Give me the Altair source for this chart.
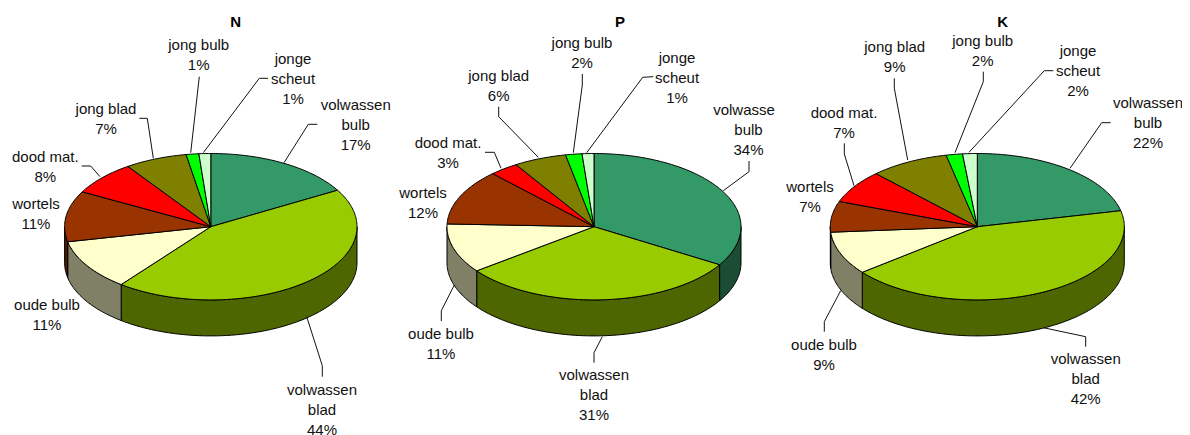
import math
import altair as alt
import pandas as pd

# ---- values (percent shares) ----
CATEGORIES = ["volwassen bulb", "volwassen blad", "oude bulb", "wortels",
              "dood mat.", "jong blad", "jong bulb", "jonge scheut"]
N_VALUES = [16.7, 43.8, 11.2, 11.2, 7.5, 6.9, 1.4, 1.3]
P_VALUES = [33.7, 31.0, 10.9, 12.3, 3.2, 5.8, 1.8, 1.3]
K_VALUES = [21.5, 42.8, 9.5, 6.8, 7.3, 8.7, 1.8, 1.6]
N_LABELS = ["17%", "44%", "11%", "11%", "8%", "7%", "1%", "1%"]
P_LABELS = ["34%", "31%", "11%", "12%", "3%", "6%", "2%", "1%"]
K_LABELS = ["22%", "42%", "9%", "7%", "7%", "9%", "2%", "2%"]
PANELS = ["N", "P", "K"]

# ---- styles ----
TOP_COLORS = ["#339966", "#99CC00", "#FFFFCC", "#993300", "#FF0000", "#808000", "#00FF00", "#CCFFCC"]
SIDE_COLORS = ["#1A4D33", "#4D6600", "#808066", "#4D1A00", "#800000", "#404000", "#008000", "#668066"]

# ---- layout ----
CENTERS = {"N": (210.8, 226.7, 146.2), "P": (594.0, 226.7, 147.0), "K": (977.3, 226.7, 147.0)}
RY, DEPTH = 73.2, 36.0
TITLE_POS = {"N": (235.7, 21.5), "P": (620.0, 21.5), "K": (1002.7, 21.5)}
LINE_SHIFT = {"volwasse": -4.5}
# label lines: text lines, centre x, first line y
LABEL_POS = {
    "N": [(["volwassen", "bulb"], 355.7, 105), (["volwassen", "blad"], 322, 390), (["oude bulb"], 47, 305),
          (["wortels"], 36, 204), (["dood mat."], 45.3, 157), (["jong blad"], 106, 109),
          (["jong bulb"], 198.7, 45), (["jonge", "scheut"], 293, 59)],
    "P": [(["volwasse", "bulb"], 748.5, 110), (["volwassen", "blad"], 594, 375), (["oude bulb"], 441, 334),
          (["wortels"], 423, 193), (["dood mat."], 448, 143), (["jong blad"], 498.7, 76),
          (["jong bulb"], 582, 43), (["jonge", "scheut"], 677, 58)],
    "K": [(["volwassen", "bulb"], 1148, 103), (["volwassen", "blad"], 1085.7, 359), (["oude bulb"], 824, 345),
          (["wortels"], 810, 187), (["dood mat."], 844, 113), (["jong blad"], 894.7, 47),
          (["jong bulb"], 982.7, 41), (["jonge", "scheut"], 1078, 51)],
}
LEADERS = {
    "N": [[(268, 78.3), (259.3, 78.3), (203.3, 152.7)], [(199.3, 76.7), (190.7, 152.7)],
          [(317.3, 124.3), (308.3, 124.3), (284, 162.7)], [(139.3, 118.3), (147.3, 118.3), (153.3, 158.3)],
          [(81.7, 166), (90.7, 166), (100, 176.7)], [(322.3, 376.7), (322.3, 365.7), (306.7, 316.7)]],
    "P": [[(653.3, 76.7), (642.7, 77.3), (586.7, 152.7)], [(582.3, 74), (582.3, 85), (573.3, 152.7)],
          [(749, 161), (749, 171.7), (723.3, 190.7)], [(498.7, 106.7), (498.7, 116.7), (538.3, 157.3)],
          [(485, 152.3), (494.3, 152.3), (501, 168.3)], [(441.3, 321), (441.3, 310.7), (454.3, 285)],
          [(594, 362.7), (594, 352.7), (602.3, 336.7)]],
    "K": [[(1053.3, 70.7), (1044.3, 70.7), (969, 152.3)], [(983.3, 71.7), (983.3, 81.7), (955, 152.7)],
          [(1110.7, 122.7), (1101.7, 122.7), (1070, 168.3)], [(894.3, 78.3), (894.3, 88.3), (907.7, 160)],
          [(844.3, 143.3), (844.3, 154), (854, 185.7)], [(824.3, 331.7), (824.3, 321.7), (840.7, 290.7)],
          [(1085.7, 346.7), (1085.7, 336.7), (1043.3, 327.7)]],
}

VALUES = {"N": N_VALUES, "P": P_VALUES, "K": K_VALUES}
LABELS = {"N": N_LABELS, "P": P_LABELS, "K": K_LABELS}


def pt(panel, deg, drop=0.0):
    cx, cy, rx = CENTERS[panel]
    t = math.radians(deg)
    return cx + rx * math.sin(t), cy - RY * math.cos(t) + drop


def arc(a, b):
    n = max(2, int(abs(b - a)) + 2)
    return [a + (b - a) * i / (n - 1) for i in range(n)]


tops, sides = [], []
for panel in PANELS:
    cum = 0.0
    total = sum(VALUES[panel])
    for k, v in enumerate(VALUES[panel]):
        a, b = cum / total * 360, (cum + v) / total * 360
        cum += v
        cx, cy, _ = CENTERS[panel]
        poly = [(cx, cy)] + [pt(panel, d) for d in arc(a, b)] + [(cx, cy)]
        for i, (x, y) in enumerate(poly):
            tops.append(dict(id=f"{panel}{k}", i=i, x=x, y=y, fill=TOP_COLORS[k], cat=CATEGORIES[k]))
        lo, hi = max(a, 90), min(b, 270)
        if hi > lo:
            ds = arc(lo, hi)
            poly = [pt(panel, d) for d in ds] + [pt(panel, d, DEPTH) for d in reversed(ds)]
            poly.append(poly[0])
            for i, (x, y) in enumerate(poly):
                sides.append(dict(id=f"{panel}{k}", i=i, x=x, y=y, fill=SIDE_COLORS[k], cat=CATEGORIES[k]))

texts, titles, leaders = [], [], []
for panel in PANELS:
    x, y = TITLE_POS[panel]
    titles.append(dict(x=x, y=y, t=panel))
    for (lines, x, y), pct in zip(LABEL_POS[panel], LABELS[panel]):
        for j, line in enumerate(lines + [pct]):
            texts.append(dict(x=x + LINE_SHIFT.get(line, 0), y=y + 20 * j, t=line))
    for n, pts in enumerate(LEADERS[panel]):
        for i, (x, y) in enumerate(pts):
            leaders.append(dict(id=f"{panel}{n}", i=i, x=x, y=y))

X = alt.X("x:Q", scale=alt.Scale(domain=[8, 1182], nice=False, zero=False), axis=None)
Y = alt.Y("y:Q", scale=alt.Scale(domain=[435, 8], nice=False, zero=False), axis=None)


def polys(rows):
    return alt.Chart(pd.DataFrame(rows)).mark_line(stroke="black", strokeWidth=1, strokeJoin="round").encode(
        x=X, y=Y, detail="id:N", order="i:Q", fill=alt.Fill("fill:N", scale=None))


side_layer = polys(sides)
top_layer = polys(tops)
leader_layer = alt.Chart(pd.DataFrame(leaders)).mark_line(stroke="#111111", strokeWidth=1).encode(
    x=X, y=Y, detail="id:N", order="i:Q")
text_layer = alt.Chart(pd.DataFrame(texts)).mark_text(
    font="Liberation Sans", fontSize=15, color="#111111", align="center", baseline="middle"
).encode(x=X, y=Y, text="t:N")
title_layer = alt.Chart(pd.DataFrame(titles)).mark_text(
    font="Liberation Sans", fontSize=15, fontWeight="bold", color="black", align="center", baseline="middle"
).encode(x=X, y=Y, text="t:N")

chart = alt.layer(side_layer, top_layer, leader_layer, text_layer, title_layer).properties(
    width=1174, height=427, padding=0, autosize=alt.AutoSizeParams(type="none")
).configure_view(stroke=None)

chart.save("out.html", embed_options={"renderer": "svg", "actions": False})
